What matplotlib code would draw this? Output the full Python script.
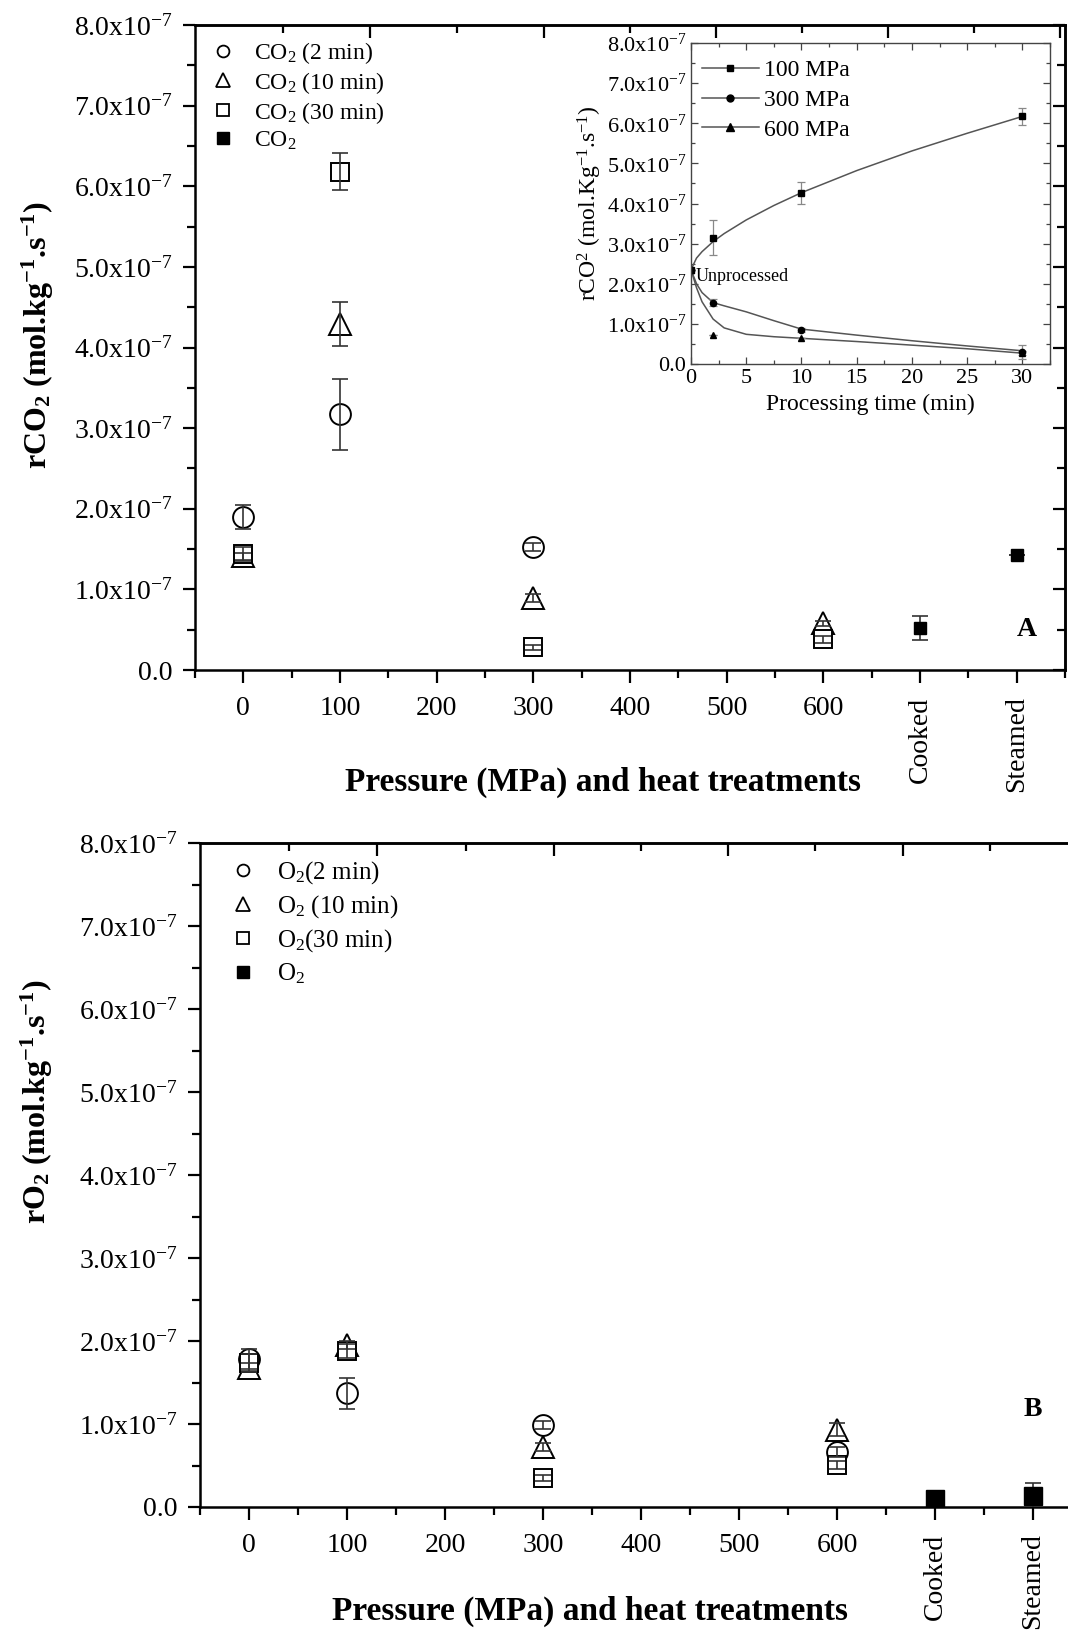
import numpy as np
import matplotlib.pyplot as plt
from matplotlib.lines import Line2D
from matplotlib.ticker import FuncFormatter, MultipleLocator

plt.rcParams['font.family'] = ['Liberation Serif', 'DejaVu Serif']
plt.rcParams['mathtext.fontset'] = 'custom'
plt.rcParams['mathtext.rm'] = 'Liberation Serif'
plt.rcParams['mathtext.it'] = 'Liberation Serif:italic'
plt.rcParams['mathtext.bf'] = 'Liberation Serif:bold'

# values in units of 1e-7 mol.kg-1.s-1
pressure = [0, 100, 300, 600]
heat_pos = [700, 800]
x_labels = ['0', '100', '200', '300', '400', '500', '600', 'Cooked', 'Steamed']

co2_2min = [1.90, 3.17, 1.53, np.nan]
co2_2min_err = [0.15, 0.44, 0.05, 0.0]
co2_10min = [1.41, 4.29, 0.89, 0.58]
co2_10min_err = [0.04, 0.27, 0.05, 0.03]
co2_30min = [1.44, 6.18, 0.28, 0.38]
co2_30min_err = [0.09, 0.23, 0.03, 0.04]
co2_heat = [0.52, 1.43]
co2_heat_err = [0.15, 0.0]

o2_2min = [1.78, 1.37, 0.99, 0.66]
o2_2min_err = [0.12, 0.19, 0.05, 0.06]
o2_10min = [1.68, 1.95, 0.72, 0.93]
o2_10min_err = [0.05, 0.05, 0.05, 0.08]
o2_30min = [1.74, 1.88, 0.35, 0.51]
o2_30min_err = [0.10, 0.08, 0.04, 0.05]
o2_heat = [0.10, 0.13]
o2_heat_err = [0.0, 0.16]

# inset: CO2 rate vs processing time
time_min = [0, 2, 10, 30]
r100 = [2.35, 3.15, 4.27, 6.17]
r100_err = [0.0, 0.44, 0.27, 0.22]
r300 = [2.35, 1.53, 0.85, 0.30]
r300_err = [0.0, 0.08, 0.05, 0.17]
r600 = [2.35, 0.72, 0.65, 0.28]
r600_err = [0.0, 0.0, 0.0, 0.05]
fit_t = [0, 0.5, 1, 2, 3, 5, 7.5, 10, 15, 20, 25, 30]
fit100 = [2.35, 2.64, 2.80, 3.05, 3.25, 3.59, 3.95, 4.27, 4.82, 5.31, 5.75, 6.17]
fit300 = [2.35, 2.00, 1.78, 1.53, 1.45, 1.30, 1.08, 0.87, 0.72, 0.58, 0.45, 0.33]
fit600 = [2.35, 1.90, 1.55, 1.12, 0.90, 0.74, 0.68, 0.64, 0.56, 0.47, 0.38, 0.27]

S = 1e-7


def sci(v, pos):
    if abs(v) < 1e-12:
        return '0.0'
    return r'%.1fx10$^{\mathregular{-7}}$' % (v / S)


def style_main(ax):
    ax.set_xlim(-50, 850)
    ax.set_ylim(0, 8e-7)
    ax.set_xticks(range(0, 900, 100))
    ax.set_xticklabels(x_labels, fontsize=20)
    for lab in ax.get_xticklabels()[7:]:
        lab.set_rotation(90)
    ax.xaxis.set_minor_locator(MultipleLocator(50))
    ax.yaxis.set_major_locator(MultipleLocator(1e-7))
    ax.yaxis.set_minor_locator(MultipleLocator(0.5e-7))
    ax.yaxis.set_major_formatter(FuncFormatter(sci))
    ax.tick_params(axis='y', labelsize=20, pad=7)
    ax.tick_params(axis='x', pad=10)
    ax.tick_params(which='major', length=9, width=1.6, direction='out')
    ax.tick_params(which='minor', length=5.5, width=1.6, direction='out')
    for sp in ax.spines.values():
        sp.set_linewidth(1.8)
    top = ax.secondary_xaxis('top')
    top.set_xticks([131, 311, 489, 667, 845])
    top.set_xticks([41, 221, 400, 578, 756], minor=True)
    top.tick_params(which='major', direction='in', length=9, width=1.6, labeltop=False)
    top.tick_params(which='minor', direction='in', length=5.5, width=1.6)
    top.spines['top'].set_linewidth(1.8)
    right = ax.secondary_yaxis('right')
    right.yaxis.set_major_locator(MultipleLocator(1e-7))
    right.yaxis.set_minor_locator(MultipleLocator(0.5e-7))
    right.tick_params(which='major', direction='in', length=9, width=1.6, labelright=False)
    right.tick_params(which='minor', direction='in', length=5.5, width=1.6)
    right.spines['right'].set_linewidth(1.8)


def plot_group(ax, y2, e2, y10, e10, y30, e30, yh, eh, hsize):
    mk = dict(mfc='white', mec='black', mew=1.4, ls='none')
    ek = dict(fmt='none', ecolor='#333333', elinewidth=1.2, capsize=6, capthick=1.2, zorder=6)
    ax.plot(pressure, np.array(y2) * S, marker='o', ms=15, zorder=3, **mk)
    ax.plot(pressure, np.array(y10) * S, marker='^', ms=16, zorder=4, **mk)
    ax.plot(pressure, np.array(y30) * S, marker='s', ms=13.5, zorder=5, **mk)
    ax.errorbar(pressure, np.array(y2) * S, yerr=np.array(e2) * S, **ek)
    ax.errorbar(pressure, np.array(y10) * S, yerr=np.array(e10) * S, **ek)
    ax.errorbar(pressure, np.array(y30) * S, yerr=np.array(e30) * S, **ek)
    ax.errorbar(heat_pos, np.array(yh) * S, yerr=np.array(eh) * S, fmt='s', ms=hsize,
                mfc='black', mec='black', ecolor='#333333', elinewidth=1.2,
                capsize=6, capthick=1.2, ls='none', zorder=5)


def legend_handles():
    h = [Line2D([], [], ls='none', marker='o', ms=8.5, mfc='white', mec='black', mew=1.3),
         Line2D([], [], ls='none', marker='^', ms=9.5, mfc='white', mec='black', mew=1.3),
         Line2D([], [], ls='none', marker='s', ms=8, mfc='white', mec='black', mew=1.3),
         Line2D([], [], ls='none', marker='s', ms=8, mfc='black', mec='black')]
    return h


fig = plt.figure(figsize=(10.68, 16.38), dpi=100)

# ---------- panel A ----------
ax1 = fig.add_axes([195 / 1068, 1 - 670 / 1638, 870 / 1068, 645 / 1638])
style_main(ax1)
plot_group(ax1, co2_2min, co2_2min_err, co2_10min, co2_10min_err,
           co2_30min, co2_30min_err, co2_heat, co2_heat_err, 9)
ax1.legend(legend_handles(),
           ['CO$_2$ (2 min)', 'CO$_2$ (10 min)', 'CO$_2$ (30 min)', 'CO$_2$'],
           loc='upper left', bbox_to_anchor=(-0.009, 1.01), frameon=False, fontsize=17,
           handlelength=1.2, handletextpad=0.75, labelspacing=0.17, borderaxespad=0.5)
ax1.set_ylabel(r'rCO$_\mathbf{2}$ (mol.kg$^{\mathbf{-1}}$.s$^{\mathbf{-1}}$)',
               fontsize=23, fontweight='bold')
ax1.yaxis.set_label_coords(-0.16, 0.52)
ax1.set_xlabel('Pressure (MPa) and heat treatments', fontsize=24, fontweight='bold')
ax1.xaxis.set_label_coords(0.469, -0.15)
ax1.text(811, 0.5e-7, 'A', fontsize=20, fontweight='bold', ha='center', va='center')

# ---------- inset ----------
axi = fig.add_axes([691 / 1068, 1 - 364 / 1638, 359 / 1068, 321 / 1638])
gray = '#555555'
axi.plot(fit_t, np.array(fit100) * S, color=gray, lw=1.1)
axi.plot(fit_t, np.array(fit300) * S, color=gray, lw=1.1)
axi.plot(fit_t, np.array(fit600) * S, color=gray, lw=1.1)
ekw = dict(ls='none', color='black', ecolor='#888888', elinewidth=0.9, capsize=3, capthick=0.9)
axi.errorbar(time_min, np.array(r100) * S, yerr=np.array(r100_err) * S, fmt='s', ms=4.5, **ekw)
axi.errorbar(time_min, np.array(r300) * S, yerr=np.array(r300_err) * S, fmt='o', ms=4.5, **ekw)
axi.errorbar(time_min, np.array(r600) * S, yerr=np.array(r600_err) * S, fmt='^', ms=5, **ekw)
axi.set_xlim(0, 32.5)
axi.set_ylim(0, 8e-7)
axi.xaxis.set_major_locator(MultipleLocator(5))
axi.xaxis.set_minor_locator(MultipleLocator(2.5))
axi.yaxis.set_major_locator(MultipleLocator(1e-7))
axi.yaxis.set_minor_locator(MultipleLocator(0.5e-7))
axi.yaxis.set_major_formatter(FuncFormatter(sci))
axi.tick_params(which='both', direction='in', top=True, right=True, labelsize=16,
                color='#444444', width=0.9)
axi.tick_params(which='major', length=5)
axi.tick_params(which='minor', length=3)
for sp in axi.spines.values():
    sp.set_linewidth(1.0)
    sp.set_color('#444444')
axi.set_xlabel('Processing time (min)', fontsize=17)
axi.set_ylabel(r'rCO$^2$ (mol.Kg$^{-1}$.s$^{-1}$)', fontsize=17, labelpad=2)
axi.text(0.4, 2.17e-7, 'Unprocessed', fontsize=13, va='center', ha='left')
ih = [Line2D([], [], color=gray, lw=1.1, marker='s', ms=5, mfc='black', mec='black'),
      Line2D([], [], color=gray, lw=1.1, marker='o', ms=5, mfc='black', mec='black'),
      Line2D([], [], color=gray, lw=1.1, marker='^', ms=5.5, mfc='black', mec='black')]
axi.legend(ih, ['100 MPa', '300 MPa', '600 MPa'], loc='upper left',
           bbox_to_anchor=(-0.015, 1.0), frameon=False,
           fontsize=17, handlelength=2.4, handletextpad=0.2, labelspacing=0.35,
           borderaxespad=0.3)

# ---------- panel B ----------
ax2 = fig.add_axes([200 / 1068, 1 - 1507 / 1638, 882 / 1068, 664 / 1638])
style_main(ax2)
plot_group(ax2, o2_2min, o2_2min_err, o2_10min, o2_10min_err,
           o2_30min, o2_30min_err, o2_heat, o2_heat_err, 13)
ax2.legend(legend_handles(),
           ['O$_2$(2 min)', 'O$_2$ (10 min)', 'O$_2$(30 min)', 'O$_2$'],
           loc='upper left', bbox_to_anchor=(0.006, 1.01), frameon=False, fontsize=18,
           handlelength=1.2, handletextpad=0.75, labelspacing=0.3, borderaxespad=0.5)
ax2.set_ylabel(r'rO$_\mathbf{2}$ (mol.kg$^{\mathbf{-1}}$.s$^{\mathbf{-1}}$)',
               fontsize=23, fontweight='bold')
ax2.yaxis.set_label_coords(-0.164, 0.61)
ax2.set_xlabel('Pressure (MPa) and heat treatments', fontsize=24, fontweight='bold')
ax2.xaxis.set_label_coords(0.442, -0.133)
ax2.text(800, 1.17e-7, 'B', fontsize=20, fontweight='bold', ha='center', va='center')

fig.savefig('out.png', dpi=100)
